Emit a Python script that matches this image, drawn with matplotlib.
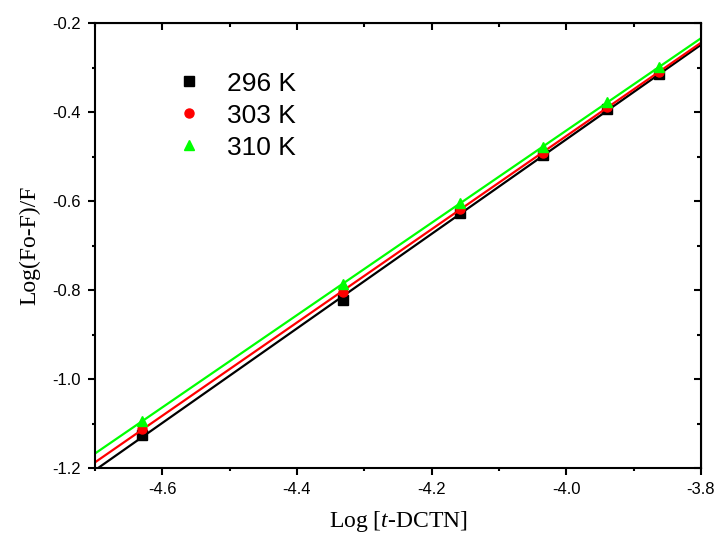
import numpy as np
import matplotlib.pyplot as plt
from matplotlib.ticker import MultipleLocator

plt.rcParams["mathtext.fontset"] = "custom"
plt.rcParams["mathtext.it"] = "Liberation Serif:italic"
plt.rcParams["mathtext.rm"] = "Liberation Serif"

# Log [t-DCTN] values (same for all temperatures)
log_conc = [-4.630, -4.331, -4.158, -4.034, -3.939, -3.862]

# Log(Fo-F)/F for each temperature
y_296 = [-1.126, -0.822, -0.628, -0.497, -0.394, -0.315]
y_303 = [-1.112, -0.804, -0.619, -0.491, -0.388, -0.309]
y_310 = [-1.094, -0.786, -0.605, -0.479, -0.377, -0.298]

labels = ["296 K", "303 K", "310 K"]
colors = ["black", "red", "#00ff00"]
markers = ["s", "o", "^"]
xticks = [-4.6, -4.4, -4.2, -4.0, -3.8]
yticks = [-1.2, -1.0, -0.8, -0.6, -0.4, -0.2]

fig = plt.figure(figsize=(7.19, 5.39), dpi=100)
ax = fig.add_axes([0.1321, 0.1317, 0.8428, 0.8256])

xfit = np.array([-4.7, -3.8])
for y, lab, c, m in zip([y_296, y_303, y_310], labels, colors, markers):
    ax.plot(log_conc, y, linestyle="none", marker=m, color=c, markersize=6.5, label=lab)
    k, b = np.polyfit(log_conc, y, 1)
    ax.plot(xfit, k * xfit + b, color=c, linewidth=1.6)

ax.set_xlim(-4.7, -3.8)
ax.set_ylim(-1.2, -0.2)
ax.set_xticks(xticks)
ax.set_xticklabels(["%.1f" % v for v in xticks], family="Liberation Sans", fontsize=12)
ax.set_yticks(yticks)
ax.set_yticklabels(["%.1f" % v for v in yticks], family="Liberation Sans", fontsize=12)
ax.xaxis.set_minor_locator(MultipleLocator(0.1))
ax.yaxis.set_minor_locator(MultipleLocator(0.1))

ax.tick_params(which="both", direction="out", width=1.5, top=False, right=False)
ax.tick_params(which="major", length=5, pad=5)
ax.tick_params(which="minor", length=2.5)
for s in ax.spines.values():
    s.set_linewidth(1.5)

# mirrored inward ticks on top and right
axt = ax.secondary_xaxis("top")
axt.set_xticks(xticks)
axt.xaxis.set_minor_locator(MultipleLocator(0.1))
axt.tick_params(which="both", direction="in", width=1.5, labeltop=False)
axt.tick_params(which="major", length=5)
axt.tick_params(which="minor", length=3)
axr = ax.secondary_yaxis("right")
axr.set_yticks(yticks)
axr.yaxis.set_minor_locator(MultipleLocator(0.1))
axr.tick_params(which="both", direction="in", width=1.5, labelright=False)
axr.tick_params(which="major", length=5)
axr.tick_params(which="minor", length=3)

ax.set_xlabel("Log [$\\mathit{t}$-DCTN]", family="Liberation Serif", fontsize=17, labelpad=9)
ax.set_ylabel("Log(Fo-F)/F", family="Liberation Serif", fontsize=17, labelpad=9)

ax.legend(loc="upper left", bbox_to_anchor=(0.085, 0.944), frameon=False,
          prop={"family": "Liberation Sans", "size": 19}, handletextpad=0.75,
          labelspacing=0.3, handlelength=1.4)

fig.savefig("out.png", dpi=100)
